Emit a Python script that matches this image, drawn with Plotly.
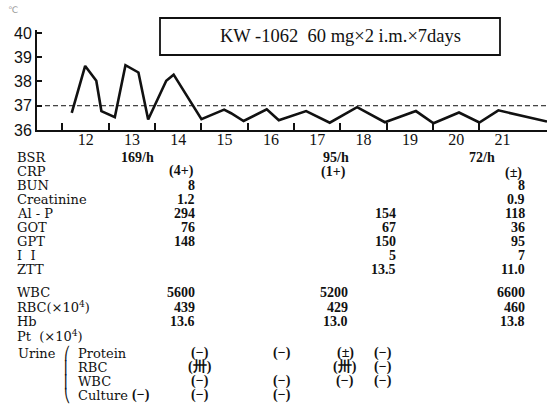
import plotly.graph_objects as go

# ---------------- data ----------------
TEMP_DAYS = [11.70, 11.99, 12.23, 12.34, 12.63, 12.86, 13.14, 13.35, 13.74, 13.90,
             14.50, 14.99, 15.14, 15.41, 15.91, 16.17, 16.76, 17.27, 17.86, 18.46,
             19.13, 19.51, 20.06, 20.50, 20.91, 21.96]
TEMP_VALUES = [36.71, 38.64, 38.03, 36.78, 36.53, 38.67, 38.37, 36.43, 38.03, 38.28,
               36.45, 36.84, 36.69, 36.37, 36.85, 36.40, 36.78, 36.30, 36.94, 36.32,
               36.78, 36.28, 36.72, 36.31, 36.81, 36.35]
NORMAL_TEMP = 37
DAY_TICKS = [12, 13, 14, 15, 16, 17, 18, 19, 20, 21]
DAY_BOUNDS = [11.5, 12.5, 13.5, 14.5, 15.5, 16.5, 17.5, 18.5, 19.5, 20.5]
TEMP_TICKS = [36, 37, 38, 39, 40]
TITLE = "KW -1062  60 mg×2 i.m.×7days"

BSR_DAYS = [13, 17, 20]
BSR_VALUES = ["169/h", "95/h", "72/h"]
CRP_DAYS = [14, 17, 21]
CRP_VALUES = ["(4+)", "(1+)", "(±)"]

CHEM_DAYS = [14, 18, 21]
BUN = ["8", "", "8"]
CREATININE = ["1.2", "", "0.9"]
AL_P = ["294", "154", "118"]
GOT = ["76", "67", "36"]
GPT = ["148", "150", "95"]
II = ["", "5", "7"]
ZTT = ["", "13.5", "11.0"]

CBC_DAYS = [14, 17, 21]
WBC = ["5600", "5200", "6600"]
RBC = ["439", "429", "460"]
HB = ["13.6", "13.0", "13.8"]
PT = ["", "", ""]

URINE_DAYS = [13, 14, 16, 17, 18]
U_PROTEIN = ["", "(−)", "(−)", "(±)", "(−)"]
U_RBC = ["", "(卅)", "", "(卅)", "(−)"]
U_WBC = ["", "(−)", "(−)", "(−)", "(−)"]
U_CULTURE = ["(−)", "(−)", "(−)", "", ""]

# ---------------- layout constants ----------------
W, H = 547, 404
ML, MT = 37, 30
PLOT_BOTTOM = 130
PLOT_W = W - ML
PLOT_H = PLOT_BOTTOM - MT
XR = [10.95, 21.96]
YR = [36, 40.12]

INK = "#111111"
LABEL_FONT = dict(family="DejaVu Serif", size=13, color=INK)
VAL_FONT = dict(family="Liberation Serif", size=14, color=INK, weight="bold")


def py(p):
    return (PLOT_BOTTOM - p) / PLOT_H


def px(p):
    return (p - ML) / PLOT_W


fig = go.Figure()
fig.add_trace(go.Scatter(x=TEMP_DAYS, y=TEMP_VALUES, mode="lines",
                         line=dict(color=INK, width=2.6), hoverinfo="skip",
                         showlegend=False))

shapes = [
    dict(type="line", xref="paper", yref="y", x0=0, x1=1, y0=NORMAL_TEMP, y1=NORMAL_TEMP,
         line=dict(color=INK, width=1, dash="5px,3px")),
    dict(type="rect", xref="paper", yref="paper", x0=px(160), x1=px(500),
         y0=py(55), y1=py(18), line=dict(color=INK, width=1.8)),
]

ann = []
ann.append(dict(text=TITLE, xref="paper", yref="paper", x=px(340), y=py(36),
                xanchor="center", yanchor="middle", showarrow=False,
                font=dict(family="Liberation Serif", size=18.5, color=INK)))
ann.append(dict(text="℃", xref="paper", yref="paper", x=px(13), y=py(10),
                xanchor="center", yanchor="middle", showarrow=False,
                font=dict(family="DejaVu Sans", size=9, color="#999")))


def label(text, x, y):
    ann.append(dict(text=text, xref="paper", yref="paper", x=px(x), y=py(y),
                    xanchor="left", yanchor="middle", showarrow=False, font=LABEL_FONT))


def value(text, xday, y, anchor="right"):
    if not text:
        return
    ann.append(dict(text=text, xref="x", yref="paper", x=xday, y=py(y),
                    xanchor=anchor, yanchor="middle", showarrow=False, font=VAL_FONT))


# row pixel positions
CHEM_ROWS_Y = [157, 171, 185, 199, 213, 227, 241, 255, 269]
CHEM_LABELS = ["BSR", "CRP", "BUN", "Creatinine", "Al - P", "GOT", "GPT", "I  I", "ZTT"]
for t, y in zip(CHEM_LABELS, CHEM_ROWS_Y):
    label(t, 15, y)

BSR_NUDGE = [0.11, 0.41, 0.56]
for d, v, n in zip(BSR_DAYS, BSR_VALUES, BSR_NUDGE):
    value(v, d + n, CHEM_ROWS_Y[0], "center")
CRP_NUDGE = [0.06, 0.36, 0.23]
CRP_DY = [0, 1, 1.5]
for d, v, n, dy in zip(CRP_DAYS, CRP_VALUES, CRP_NUDGE, CRP_DY):
    value(v, d + n, CHEM_ROWS_Y[1] + dy, "center")

CHEM_NUDGE = [0.41, 0.74, 0.53]
for row, y in zip([BUN, CREATININE, AL_P, GOT, GPT, II, ZTT], CHEM_ROWS_Y[2:]):
    for d, v, n in zip(CHEM_DAYS, row, CHEM_NUDGE):
        value(v, d + n, y)

CBC_ROWS_Y = [292, 307, 321, 336]
CBC_LABELS = ["WBC", "RBC(×10<sup>4</sup>)", "Hb", "Pt  (×10<sup>4</sup>)"]
for t, y in zip(CBC_LABELS, CBC_ROWS_Y):
    label(t, 15, y)
CBC_NUDGE = [0.41, 0.71, 0.53]
for row, y in zip([WBC, RBC, HB, PT], CBC_ROWS_Y):
    for d, v, n in zip(CBC_DAYS, row, CBC_NUDGE):
        value(v, d + n, y)

URINE_ROWS_Y = [353, 367, 381, 395]
label("Urine", 16, URINE_ROWS_Y[0])
for t, b, y in zip(["Protein", "RBC", "WBC", "Culture"], ["⎛", "⎜", "⎜", "⎝"], URINE_ROWS_Y):
    label(t, 76, y)
    ann.append(dict(text=b, xref="paper", yref="paper", x=px(67), y=py(y),
                    xanchor="center", yanchor="middle", showarrow=False,
                    font=dict(family="DejaVu Sans", size=13, color=INK)))
URINE_NUDGE = [0.20, 0.47, 0.24, 0.60, 0.42]
for row, y in zip([U_PROTEIN, U_RBC, U_WBC, U_CULTURE], URINE_ROWS_Y):
    for d, v, n in zip(URINE_DAYS, row, URINE_NUDGE):
        value(v, d + n, y, "center")

fig.update_layout(
    width=W, height=H,
    margin=dict(l=ML, r=0, t=MT, b=H - PLOT_BOTTOM, pad=0),
    paper_bgcolor="white", plot_bgcolor="white",
    showlegend=False,
    shapes=shapes, annotations=ann,
    xaxis=dict(range=XR, showgrid=False, zeroline=False, showline=True,
               linecolor=INK, linewidth=2, ticks="", tickmode="array",
               tickvals=DAY_TICKS, ticktext=[str(d) for d in DAY_TICKS],
               tickfont=dict(family="Liberation Serif", size=16, color=INK),
               ticklabelstandoff=-6,
               minor=dict(ticks="inside", tickmode="array", tickvals=DAY_BOUNDS,
                          ticklen=7, tickwidth=1.5, tickcolor=INK, showgrid=False),
               fixedrange=True),
    yaxis=dict(range=YR, showgrid=False, zeroline=False, showline=True,
               linecolor=INK, linewidth=2, ticks="inside", ticklen=5, tickwidth=1.5,
               tickcolor=INK, tickmode="array", tickvals=TEMP_TICKS,
               tickfont=dict(family="Liberation Sans", size=16, color=INK),
               fixedrange=True),
)

fig.write_html("out.html", config={"displayModeBar": False},
               post_script="document.body.style.margin='0px';")
